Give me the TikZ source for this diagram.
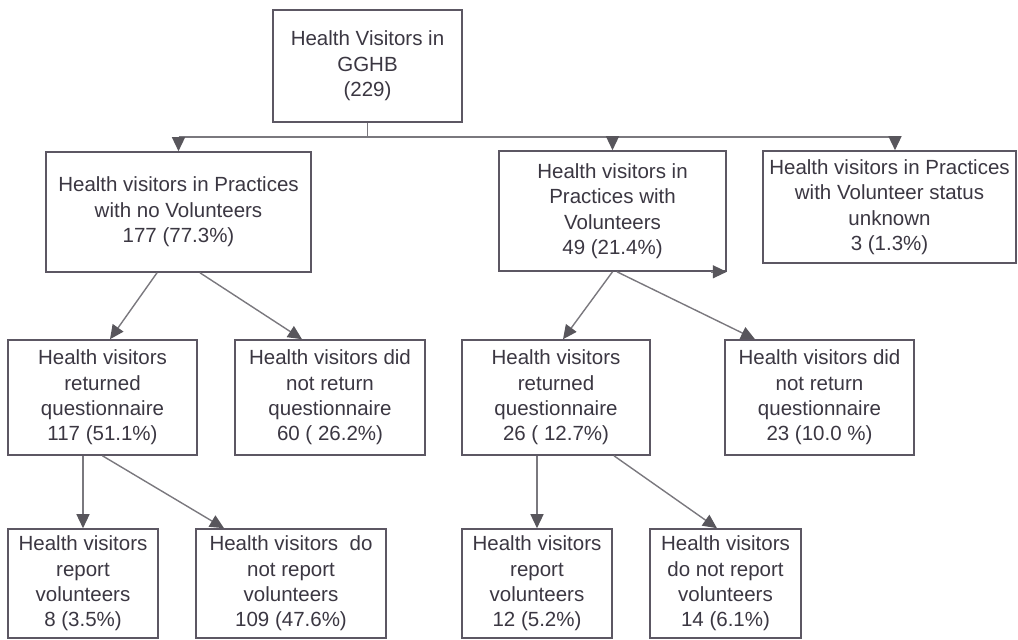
\documentclass[tikz,border=0pt]{standalone}
\usepackage{fontspec}
\setmainfont{Liberation Sans}
\usetikzlibrary{arrows.meta,calc}
\definecolor{boxline}{HTML}{5C5763}
\definecolor{boxink}{HTML}{3B3742}
\definecolor{linkgray}{HTML}{7A787E}
\definecolor{tipgray}{HTML}{58565C}

\begin{document}
\begin{tikzpicture}[
  x=0.5pt,
  y=-0.5pt,
  every node/.style={font=\fontsize{10.25pt}{12.7pt}\selectfont, boxink},
  box/.style={draw=boxline, line width=0.8pt, fill=white, inner sep=0pt,
    align=center},
  link/.style={linkgray, line width=0.7pt},
  arrow/.style={linkgray, line width=0.7pt,
    -{Triangle[length=7pt, width=6.5pt, color=tipgray]}}
]
  \useasboundingbox (0,0) rectangle (1018,639);

  % ---- first two levels ------------------------------------------------
  \node[box, minimum width=94.5pt, minimum height=56pt] (top) at (367.5,66)
    {Health Visitors in\\GGHB\\(229)};

  \node[box, minimum width=132.5pt, minimum height=60pt] (novol) at (178.5,212)
    {Health visitors in Practices\\with no Volunteers\\177 (77.3\%)};
  \node[box, minimum width=113.5pt, minimum height=60pt] (withvol) at (612.5,211)
    {Health visitors in\\Practices with\\Volunteers\\49 (21.4\%)};
  \node[box, minimum width=126.5pt, minimum height=56pt] (unknown) at (889.5,207)
    {Health visitors in Practices\\with Volunteer status\\unknown\\3 (1.3\%)};

  % ---- questionnaire returned or not -----------------------------------
  \node[box, minimum width=94.5pt, minimum height=57.5pt] (novolret) at (102.5,397.5)
    {Health visitors\\returned\\questionnaire\\117 (51.1\%)};
  \node[box, minimum width=95pt, minimum height=57.5pt] (novolnot) at (330,397.5)
    {Health visitors did\\not return\\questionnaire\\60 ( 26.2\%)};
  \node[box, minimum width=94pt, minimum height=57.5pt] (volret) at (556,397.5)
    {Health visitors\\returned\\questionnaire\\26 ( 12.7\%)};
  \node[box, minimum width=94.5pt, minimum height=57.5pt] (volnot) at (819.5,397.5)
    {Health visitors did\\not return\\questionnaire\\23 (10.0 \%)};

  % ---- volunteers reported or not --------------------------------------
  \node[box, minimum width=75pt, minimum height=54.5pt] (novolrep) at (83,583.5)
    {Health visitors\\report\\volunteers\\8 (3.5\%)};
  \node[box, minimum width=95pt, minimum height=54.5pt] (novoldont) at (291,583.5)
    {Health visitors~ do\\not report\\volunteers\\109 (47.6\%)};
  \node[box, minimum width=75pt, minimum height=54.5pt] (volrep) at (537,583.5)
    {Health visitors\\report\\volunteers\\12 (5.2\%)};
  \node[box, minimum width=75.5pt, minimum height=54.5pt] (voldont) at (725.5,583.5)
    {Health visitors\\do not report\\volunteers\\14 (6.1\%)};

  % ---- connectors ------------------------------------------------------
  \coordinate (bus) at ($(top.south)+(0,14)$);
  \draw[link] (top.south) -- (bus);
  \draw[link] (bus -| novol.north) -- ($(bus -| unknown.north)+(5.5,0)$);
  \draw[arrow] (bus -| novol.north) -- (novol.north);
  \draw[arrow] (bus -| withvol.north) -- (withvol.north);
  \draw[arrow] ($(bus -| unknown.north)+(5.5,0)$) -- ($(unknown.north)+(5.5,0)$);
  \draw[arrow] ($(withvol.south east)+(-16,0)$) -- (withvol.south east);

  \draw[arrow] ($(novol.south)+(-21.5,0)$) -- ($(novolret.north)+(7.5,0)$);
  \draw[arrow] ($(novol.south)+(21.5,0)$) -- ($(novolnot.north)+(-28,0)$);
  \draw[arrow] (withvol.south) -- ($(volret.north)+(7,0)$);
  \draw[arrow] ($(withvol.south)+(4.5,0)$) -- ($(volnot.north)+(-64.5,0)$);

  \draw[arrow] (novolret.south -| novolrep.north) -- (novolrep.north);
  \draw[arrow] (novolret.south) -- ($(novoldont.north)+(-67,0)$);
  \draw[arrow] (volret.south -| volrep.north) -- (volrep.north);
  \draw[arrow] ($(volret.south)+(58,0)$) -- ($(voldont.north)+(-8.5,0)$);

\end{tikzpicture}
\end{document}
